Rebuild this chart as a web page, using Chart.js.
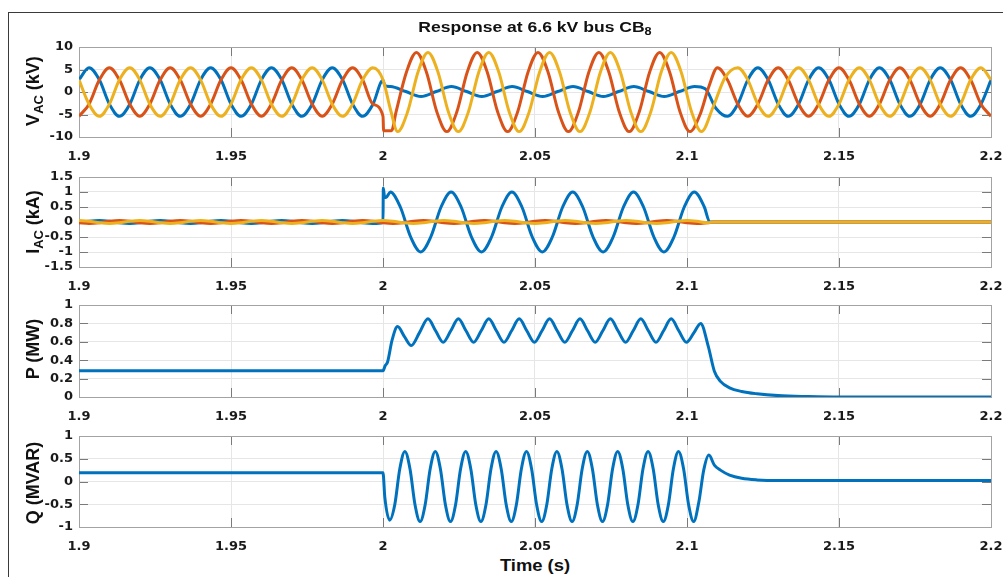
<!DOCTYPE html>
<html>
<head>
<meta charset="utf-8">
<script src="https://cdn.jsdelivr.net/npm/chart.js@4.4.1/dist/chart.umd.min.js"></script>
<style>
  body { margin: 0; background: #fff; }
  #fig { position: relative; width: 1003px; height: 577px; overflow: hidden; background: #fff; }
  #frame { position: absolute; left: 8px; top: 12px; width: 1010px; height: 600px;
           border-left: 1.5px solid #3a3a3a; border-top: 1.5px solid #3a3a3a; }
  canvas { position: absolute; left: 0; }
  .txt { position: absolute; font-family: "Liberation Sans", Arial, sans-serif; font-weight: bold;
         color: #111; white-space: nowrap; line-height: 1; }
  .txt sub { font-size: 0.72em; vertical-align: -0.3em; line-height: 0; }
  #title { left: 535px; top: 26px; font-size: 15px; transform: translate(-50%, -50%) scaleX(1.17); }
  #xlab { left: 535px; top: 566px; font-size: 16px; transform: translate(-50%, -50%) scaleX(1.15); }
  .ylab { left: 33px; font-size: 18px; transform: translate(-50%, -50%) rotate(-90deg); }
</style>
</head>
<body>
<div id="fig">
  <div id="frame"></div>
  <canvas id="cV" width="1003" height="130" style="top:37px"></canvas>
  <canvas id="cI" width="1003" height="130" style="top:167px"></canvas>
  <canvas id="cP" width="1003" height="132" style="top:295px"></canvas>
  <canvas id="cQ" width="1003" height="131" style="top:426px"></canvas>
  <div class="txt" id="title">Response at 6.6 kV bus CB<sub>8</sub></div>
  <div class="txt ylab" style="top:91px">V<sub>AC</sub> (kV)</div>
  <div class="txt ylab" style="top:222px">I<sub>AC</sub> (kA)</div>
  <div class="txt ylab" style="top:349px">P (MW)</div>
  <div class="txt ylab" style="top:483px">Q (MVAR)</div>
  <div class="txt" id="xlab">Time (s)</div>
</div>
<script>
// axis ticks
const xTicks = [1.9, 1.95, 2, 2.05, 2.1, 2.15, 2.2];
const xTickLabels = ['1.9', '1.95', '2', '2.05', '2.1', '2.15', '2.2'];
const vTicks = [-10, -5, 0, 5, 10];
const iTicks = [-1.5, -1, -0.5, 0, 0.5, 1, 1.5];
const pTicks = [0, 0.2, 0.4, 0.6, 0.8, 1];
const qTicks = [-1, -0.5, 0, 0.5, 1];

// sample times (s) for the steady 50 Hz parts, every 60 degrees
const tGrid = [1.9, 1.9033, 1.9067, 1.91, 1.9133, 1.9167, 1.92, 1.9233, 1.9267, 1.93,
  1.9333, 1.9367, 1.94, 1.9433, 1.9467, 1.95, 1.9533, 1.9567, 1.96, 1.9633,
  1.9667, 1.97, 1.9733, 1.9767, 1.98, 1.9833, 1.9867, 1.99, 1.9933, 1.9967,
  2.0, 2.0033, 2.0067, 2.01, 2.0133, 2.0167, 2.02, 2.0233, 2.0267, 2.03,
  2.0333, 2.0367, 2.04, 2.0433, 2.0467, 2.05, 2.0533, 2.0567, 2.06, 2.0633,
  2.0667, 2.07, 2.0733, 2.0767, 2.08, 2.0833, 2.0867, 2.09, 2.0933, 2.0967,
  2.1, 2.1033, 2.1067, 2.11, 2.1133, 2.1167, 2.12, 2.1233, 2.1267, 2.13,
  2.1333, 2.1367, 2.14, 2.1433, 2.1467, 2.15, 2.1533, 2.1567, 2.16, 2.1633,
  2.1667, 2.17, 2.1733, 2.1767, 2.18, 2.1833, 2.1867, 2.19, 2.1933, 2.1967, 2.2];
const tPre = tGrid.slice(0, 30);
const tPost = tGrid.slice(66);

// V_AC (kV) before the fault
const vaPre = [2.7, 5.4, 2.7, -2.7, -5.4, -2.7, 2.7, 5.4, 2.7, -2.7, -5.4, -2.7, 2.7, 5.4, 2.7, -2.7, -5.4, -2.7,
  2.7, 5.4, 2.7, -2.7, -5.4, -2.7, 2.7, 5.4, 2.7, -2.7, -5.4, -2.7];
const vbPre = [-5.4, -2.7, 2.7, 5.4, 2.7, -2.7, -5.4, -2.7, 2.7, 5.4, 2.7, -2.7, -5.4, -2.7, 2.7, 5.4, 2.7, -2.7,
  -5.4, -2.7, 2.7, 5.4, 2.7, -2.7, -5.4, -2.7, 2.7, 5.4, 2.7, -2.7];
const vcPre = [2.7, -2.7, -5.4, -2.7, 2.7, 5.4, 2.7, -2.7, -5.4, -2.7, 2.7, 5.4, 2.7, -2.7, -5.4, -2.7, 2.7, 5.4,
  2.7, -2.7, -5.4, -2.7, 2.7, 5.4, 2.7, -2.7, -5.4, -2.7, 2.7, 5.4];

// V_AC during the fault
const vaFaultT = [2.0, 2.0006, 2.0025, 2.0075, 2.0125, 2.0175, 2.0225, 2.0275, 2.0325, 2.0375, 2.0425, 2.0475,
  2.0525, 2.0575, 2.0625, 2.0675, 2.0725, 2.0775, 2.0825, 2.0875, 2.0925, 2.0975, 2.1025, 2.106, 2.1095, 2.1133, 2.1167];
const vaFaultV = [2.6, 1.4, 1.2, 0.1, -1.0, 0.1, 1.2, 0.1, -1.0, 0.1, 1.2, 0.1,
  -1.0, 0.1, 1.2, 0.1, -1.0, 0.1, 1.2, 0.1, -1.0, 0.1, 1.2, 0.7, -3.6, -5.4, -2.7];
const vbFaultT = [2.0, 2.0002, 2.0028, 2.0043, 2.0077, 2.011, 2.0143, 2.0177, 2.021, 2.0243, 2.0277, 2.031,
  2.0343, 2.0377, 2.041, 2.0443, 2.0477, 2.051, 2.0543, 2.0577, 2.061, 2.0643, 2.0677, 2.071, 2.0743, 2.0777,
  2.081, 2.0843, 2.0877, 2.091, 2.0943, 2.0977, 2.101, 2.1043, 2.1072, 2.11, 2.1133, 2.1167];
const vbFaultV = [-5.4, -8.6, -8.6, -4.4, 4.4, 8.8, 4.4, -4.4, -8.8, -4.4, 4.4, 8.8,
  4.4, -4.4, -8.8, -4.4, 4.4, 8.8, 4.4, -4.4, -8.8, -4.4, 4.4, 8.8, 4.4, -4.4,
  -8.8, -4.4, 4.4, 8.8, 4.4, -4.4, -8.8, -5.0, 1.2, 5.4, 2.7, -2.7];
const vcFaultT = [2.0, 2.0025, 2.0048, 2.0081, 2.0115, 2.0148, 2.0181, 2.0215, 2.0248, 2.0281, 2.0315, 2.0348,
  2.0381, 2.0415, 2.0448, 2.0481, 2.0515, 2.0548, 2.0581, 2.0615, 2.0648, 2.0681, 2.0715, 2.0748, 2.0781,
  2.0815, 2.0848, 2.0881, 2.0915, 2.0948, 2.0981, 2.1015, 2.1048, 2.1085, 2.1125, 2.1167];
const vcFaultV = [2.7, -4.0, -8.8, -4.4, 4.4, 8.8, 4.4, -4.4, -8.8, -4.4, 4.4, 8.8,
  4.4, -4.4, -8.8, -4.4, 4.4, 8.8, 4.4, -4.4, -8.8, -4.4, 4.4, 8.8, 4.4,
  -4.4, -8.8, -4.4, 4.4, 8.8, 4.4, -4.4, -8.8, -3.5, 3.2, 5.4];

// V_AC after clearing
const vaPost = [2.7, 5.4, 2.7, -2.7, -5.4, -2.7, 2.7, 5.4, 2.7, -2.7, -5.4, -2.7,
  2.7, 5.4, 2.7, -2.7, -5.4, -2.7, 2.7, 5.4, 2.7, -2.7, -5.4, -2.7, 2.7];
const vbPost = [-5.4, -2.7, 2.7, 5.4, 2.7, -2.7, -5.4, -2.7, 2.7, 5.4, 2.7, -2.7,
  -5.4, -2.7, 2.7, 5.4, 2.7, -2.7, -5.4, -2.7, 2.7, 5.4, 2.7, -2.7, -5.4];
const vcPost = [2.7, -2.7, -5.4, -2.7, 2.7, 5.4, 2.7, -2.7, -5.4, -2.7, 2.7, 5.4,
  2.7, -2.7, -5.4, -2.7, 2.7, 5.4, 2.7, -2.7, -5.4, -2.7, 2.7, 5.4, 2.7];

// I_AC (kA)
const iaPre = [-0.025, 0.025, 0.05, 0.025, -0.025, -0.05, -0.025, 0.025, 0.05, 0.025, -0.025, -0.05,
  -0.025, 0.025, 0.05, 0.025, -0.025, -0.05, -0.025, 0.025, 0.05, 0.025, -0.025, -0.05,
  -0.025, 0.025, 0.05, 0.025, -0.025, -0.05];
const iaFaultT = [2.0, 2.0001, 2.0005, 2.001, 2.0024, 2.0057, 2.0091, 2.0124, 2.0157, 2.0191, 2.0224, 2.0257,
  2.0291, 2.0324, 2.0357, 2.0391, 2.0424, 2.0457, 2.0491, 2.0524, 2.0557, 2.0591, 2.0624, 2.0657, 2.0691,
  2.0724, 2.0757, 2.0791, 2.0824, 2.0857, 2.0891, 2.0924, 2.0957, 2.0991, 2.1024, 2.1057, 2.1075, 2.2];
const iaFaultV = [-0.02, 1.13, 0.85, 0.82, 1.0, 0.5, -0.5, -1.0, -0.5, 0.5, 1.0, 0.5,
  -0.5, -1.0, -0.5, 0.5, 1.0, 0.5, -0.5, -1.0, -0.5, 0.5, 1.0, 0.5, -0.5,
  -1.0, -0.5, 0.5, 1.0, 0.5, -0.5, -1.0, -0.5, 0.5, 1.0, 0.5, 0, 0];
const ibV = [-0.025, -0.05, -0.025, 0.025, 0.05, 0.025, -0.025, -0.05, -0.025, 0.025, 0.05, 0.025,
  -0.025, -0.05, -0.025, 0.025, 0.05, 0.025, -0.025, -0.05, -0.025, 0.025, 0.05, 0.025,
  -0.025, -0.05, -0.025, 0.025, 0.05, 0.025, -0.025, -0.05, -0.025, 0.025, 0.05, 0.025,
  -0.025, -0.05, -0.025, 0.025, 0.05, 0.025, -0.025, -0.05, -0.025, 0.025, 0.05, 0.025,
  -0.025, -0.05, -0.025, 0.025, 0.05, 0.025, -0.025, -0.05, -0.025, 0.025, 0.05, 0.025,
  -0.025, -0.05, -0.025, 0, 0];
const icV = [0.05, 0.025, -0.025, -0.05, -0.025, 0.025, 0.05, 0.025, -0.025, -0.05, -0.025, 0.025,
  0.05, 0.025, -0.025, -0.05, -0.025, 0.025, 0.05, 0.025, -0.025, -0.05, -0.025, 0.025,
  0.05, 0.025, -0.025, -0.05, -0.025, 0.025, 0.05, 0.025, -0.025, -0.05, -0.025, 0.025,
  0.05, 0.025, -0.025, -0.05, -0.025, 0.025, 0.05, 0.025, -0.025, -0.05, -0.025, 0.025,
  0.05, 0.025, -0.025, -0.05, -0.025, 0.025, 0.05, 0.025, -0.025, -0.05, -0.025, 0.025,
  0.05, 0.025, -0.025, 0, 0];
const ibcT = tGrid.slice(0, 63).concat([2.109, 2.2]);

// P (MW)
const pT = [1.9, 2.0, 2.0007, 2.0015, 2.003, 2.0048, 2.007, 2.0093, 2.012, 2.0148, 2.0173, 2.0198,
  2.0223, 2.0248, 2.0273, 2.0298, 2.0323, 2.0348, 2.0373, 2.0398, 2.0423, 2.0448, 2.0473, 2.0498,
  2.0523, 2.0548, 2.0573, 2.0598, 2.0623, 2.0648, 2.0673, 2.0698, 2.0723, 2.0748, 2.0773, 2.0798,
  2.0823, 2.0848, 2.0873, 2.0898, 2.0923, 2.0948, 2.0973, 2.0998, 2.1023, 2.1045, 2.107, 2.109,
  2.111, 2.114, 2.118, 2.123, 2.13, 2.14, 2.15, 2.2];
const pV = [0.285, 0.285, 0.34, 0.38, 0.62, 0.765, 0.66, 0.56, 0.70, 0.85, 0.72, 0.595,
  0.72, 0.85, 0.72, 0.595, 0.72, 0.85, 0.72, 0.595, 0.72, 0.85, 0.72, 0.595,
  0.72, 0.85, 0.72, 0.595, 0.72, 0.85, 0.72, 0.595, 0.72, 0.85, 0.72, 0.595,
  0.72, 0.85, 0.72, 0.595, 0.72, 0.85, 0.72, 0.595, 0.70, 0.80, 0.55, 0.28,
  0.17, 0.10, 0.06, 0.035, 0.015, 0.005, 0.0, 0.0];

// Q (MVAR)
const qT = [1.9, 2.0, 2.0006, 2.0022, 2.0039, 2.0055, 2.0072, 2.0089, 2.0105,
  2.0122, 2.0139, 2.0155, 2.0172, 2.0189, 2.0205, 2.0222, 2.0239, 2.0255, 2.0272, 2.0289, 2.0305,
  2.0322, 2.0339, 2.0355, 2.0372, 2.0389, 2.0405, 2.0422, 2.0439, 2.0455, 2.0472, 2.0489, 2.0505,
  2.0522, 2.0539, 2.0555, 2.0572, 2.0589, 2.0605, 2.0622, 2.0639, 2.0655, 2.0672, 2.0689, 2.0705,
  2.0722, 2.0739, 2.0755, 2.0772, 2.0789, 2.0805, 2.0822, 2.0839, 2.0855, 2.0872, 2.0889, 2.0905,
  2.0922, 2.0939, 2.0955, 2.0972, 2.0989, 2.1005, 2.1022, 2.1039, 2.1055, 2.1072,
  2.109, 2.111, 2.114, 2.118, 2.123, 2.13, 2.2];
const qV = [0.19, 0.19, -0.35, -0.85, -0.5, 0.27, 0.66, 0.27, -0.5,
  -0.88, -0.5, 0.27, 0.66, 0.27, -0.5, -0.88, -0.5, 0.27, 0.66, 0.27, -0.5,
  -0.88, -0.5, 0.27, 0.66, 0.27, -0.5, -0.88, -0.5, 0.27, 0.66, 0.27, -0.5,
  -0.88, -0.5, 0.27, 0.66, 0.27, -0.5, -0.88, -0.5, 0.27, 0.66, 0.27, -0.5,
  -0.88, -0.5, 0.27, 0.66, 0.27, -0.5, -0.88, -0.5, 0.27, 0.66, 0.27, -0.5,
  -0.88, -0.5, 0.27, 0.66, 0.27, -0.5, -0.88, -0.45, 0.25, 0.58,
  0.36, 0.25, 0.14, 0.07, 0.035, 0.02, 0.02];

const BLUE = '#0072BD', RED = '#D95319', YELLOW = '#EDB120';
const gridColor = '#e6e6e6';
const tickFont = { family: 'DejaVu Sans', size: 13, weight: 'bold' };

function pts(ts, vs) {
  return ts.map((t, i) => ({ x: t, y: vs[i] }));
}

function series(data, color, order) {
  return { data: data, borderColor: color, order: order };
}

// box outline and inward tick marks, like a MATLAB axes
const matlabBox = {
  id: 'matlabBox',
  beforeDatasetsDraw(chart) {
    const { ctx, chartArea: a, scales } = chart;
    const L = 9;
    ctx.save();
    ctx.lineWidth = 1;
    ctx.strokeStyle = '#7a7a7a';
    ctx.beginPath();
    scales.x.ticks.forEach(t => {
      const px = Math.round(scales.x.getPixelForValue(t.value)) + 0.5;
      if (px > a.left + 1 && px < a.right - 1) {
        ctx.moveTo(px, a.bottom); ctx.lineTo(px, a.bottom - L);
        ctx.moveTo(px, a.top); ctx.lineTo(px, a.top + L);
      }
    });
    scales.y.ticks.forEach(t => {
      const py = Math.round(scales.y.getPixelForValue(t.value)) + 0.5;
      if (py > a.top + 1 && py < a.bottom - 1) {
        ctx.moveTo(a.left, py); ctx.lineTo(a.left + L, py);
        ctx.moveTo(a.right, py); ctx.lineTo(a.right - L, py);
      }
    });
    ctx.stroke();
    ctx.strokeStyle = '#a3a3a3';
    ctx.strokeRect(Math.round(a.left) + 0.5, Math.round(a.top) + 0.5, Math.round(a.width), Math.round(a.height));
    ctx.restore();
  }
};

function makeChart(id, datasets, yTicks, plotH) {
  const canvas = document.getElementById(id);
  const xHeight = canvas.height - 10 - plotH;
  return new Chart(canvas.getContext('2d'), {
    type: 'line',
    data: { datasets: datasets },
    options: {
      responsive: false,
      animation: false,
      events: [],
      layout: { padding: { top: 10, right: 12, left: 0, bottom: 0 } },
      plugins: { legend: { display: false }, tooltip: { enabled: false } },
      elements: {
        point: { radius: 0 },
        line: { borderWidth: 3, cubicInterpolationMode: 'monotone', fill: false }
      },
      scales: {
        x: {
          type: 'linear', min: 1.9, max: 2.2,
          afterBuildTicks: s => { s.ticks = xTicks.map(v => ({ value: v })); },
          afterFit: s => { s.height = xHeight; s.paddingLeft = 0; s.paddingRight = 0; },
          ticks: { callback: (v, i) => xTickLabels[i], font: tickFont, color: '#1a1a1a',
                   padding: 12, maxRotation: 0, autoSkip: false },
          grid: { color: gridColor, drawTicks: false },
          border: { display: false }
        },
        y: {
          type: 'linear', min: yTicks[0], max: yTicks[yTicks.length - 1],
          afterBuildTicks: s => { s.ticks = yTicks.map(v => ({ value: v })); },
          afterFit: s => { s.width = 79; s.paddingTop = 0; s.paddingBottom = 0; },
          ticks: { callback: v => String(v), font: tickFont, color: '#1a1a1a',
                   padding: 6, autoSkip: false },
          grid: { color: gridColor, drawTicks: false },
          border: { display: false }
        }
      }
    },
    plugins: [matlabBox]
  });
}

makeChart('cV', [
  series(pts(tPre.concat(vaFaultT, tPost), vaPre.concat(vaFaultV, vaPost)), BLUE, 3),
  series(pts(tPre.concat(vbFaultT, tPost), vbPre.concat(vbFaultV, vbPost)), RED, 2),
  series(pts(tPre.concat(vcFaultT, tPost), vcPre.concat(vcFaultV, vcPost)), YELLOW, 1)
], vTicks, 90);

makeChart('cI', [
  series(pts(tPre.concat(iaFaultT), iaPre.concat(iaFaultV)), BLUE, 3),
  series(pts(ibcT, ibV), RED, 2),
  series(pts(ibcT, icV), YELLOW, 1)
], iTicks, 90);

makeChart('cP', [series(pts(pT, pV), BLUE, 1)], pTicks, 92);
makeChart('cQ', [series(pts(qT, qV), BLUE, 1)], qTicks, 91);
</script>
</body>
</html>
